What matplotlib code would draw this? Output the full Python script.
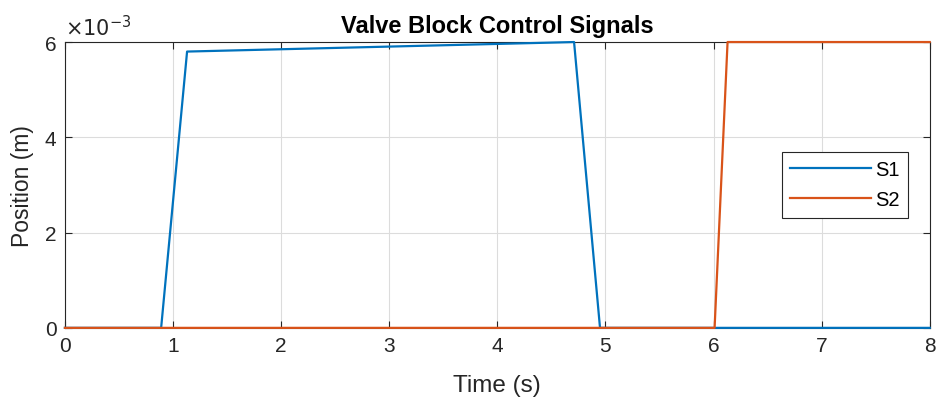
import numpy as np
import matplotlib.pyplot as plt
from matplotlib.ticker import FuncFormatter

plt.rcParams['font.family'] = ['Liberation Sans', 'DejaVu Sans']

# Valve spool position signals (time in s, position in m)
t_s1 = [0.0, 0.89, 1.13, 4.71, 4.95, 8.0]
s1 = [0.0, 0.0, 5.80e-3, 6.0e-3, 0.0, 0.0]
t_s2 = [0.0, 6.01, 6.13, 8.0]
s2 = [0.0, 0.0, 6.0e-3, 6.0e-3]

fig = plt.figure(figsize=(9.41, 4.06), dpi=100)
ax = fig.add_axes([0.069, 0.190, 0.919, 0.704])

ax.plot(t_s1, s1, color='#0072BD', linewidth=1.6, label='S1', clip_on=False, zorder=3)
ax.plot(t_s2, s2, color='#D95319', linewidth=1.6, label='S2', clip_on=False, zorder=3)

ax.set_xlim(0, 8)
ax.set_ylim(0, 6e-3)
ax.set_xticks(np.arange(0, 9, 1))
ax.set_yticks([0, 2e-3, 4e-3, 6e-3])
ax.yaxis.set_major_formatter(FuncFormatter(lambda v, p: f'{v*1e3:g}'))

ax.grid(True, color='#dcdcdc', linewidth=0.8)
ax.set_axisbelow(True)
ax.tick_params(direction='in', top=True, right=True, labelsize=15,
               colors='#262626', length=5, width=0.8, pad=6)
for sp in ax.spines.values():
    sp.set_color('#262626')
    sp.set_linewidth(0.8)
    sp.set_zorder(2.5)

ax.text(0.0, 1.025, r'$\times10^{-3}$', transform=ax.transAxes, fontsize=15,
        color='#262626', ha='left', va='baseline')

ax.set_xlabel('Time (s)', fontsize=17.5, color='#262626')
ax.set_ylabel('Position (m)', fontsize=16.5, color='#262626')
ax.xaxis.set_label_coords(0.5, -0.16)
ax.yaxis.set_label_coords(-0.036, 0.5)
ax.set_title('Valve Block Control Signals', fontsize=17, fontweight='bold',
             color='black', pad=7)

leg = ax.legend(loc='center right', bbox_to_anchor=(0.9746, 0.5), fontsize=14.5,
                fancybox=False, framealpha=1, edgecolor='#262626',
                handlelength=4.0, borderaxespad=0, handletextpad=0.2,
                labelspacing=0.55, borderpad=0.42)
leg.get_frame().set_linewidth(0.8)

fig.savefig('out.png', dpi=100)
